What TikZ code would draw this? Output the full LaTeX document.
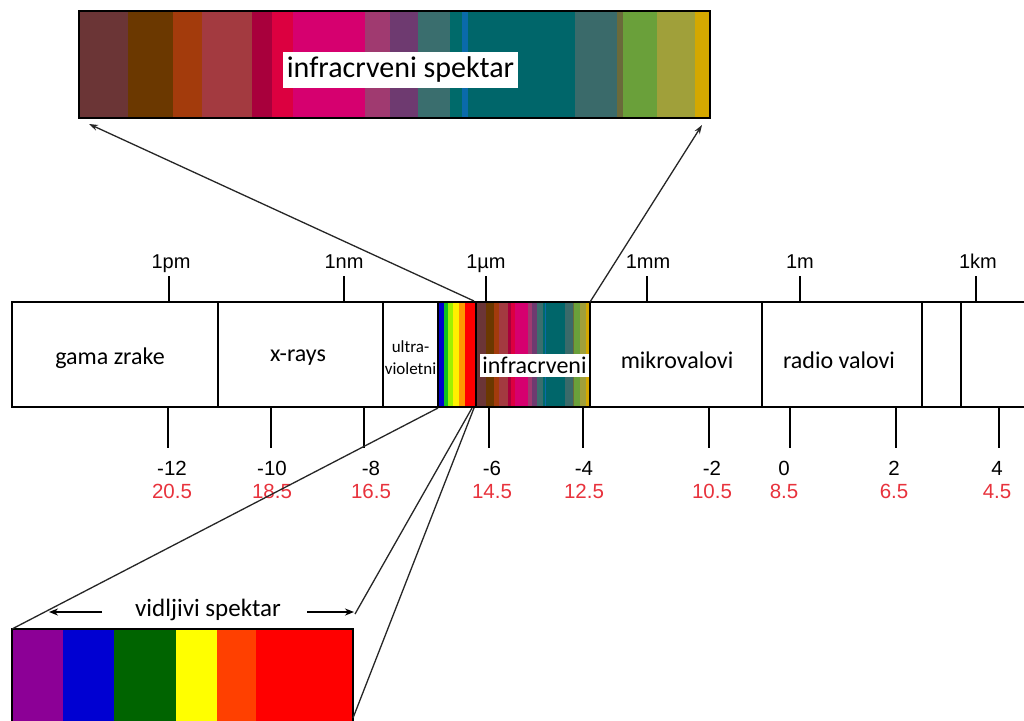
\documentclass[tikz,border=0pt]{standalone}
\usepackage{fontspec}
\setmainfont{Carlito}
\newfontfamily\arialf{Liberation Sans}
\usetikzlibrary{arrows.meta}
\definecolor{tickred}{HTML}{E8323C}
\definecolor{ira}{HTML}{6B3536}
\definecolor{irb}{HTML}{6B3800}
\definecolor{irc}{HTML}{A33B0C}
\definecolor{ird}{HTML}{A33A40}
\definecolor{ire}{HTML}{A8003C}
\definecolor{irf}{HTML}{DC0040}
\definecolor{irg}{HTML}{D6006F}
\definecolor{irh}{HTML}{A03A70}
\definecolor{iri}{HTML}{6E3A70}
\definecolor{irj}{HTML}{3A6E6E}
\definecolor{irk}{HTML}{006A6A}
\definecolor{irl}{HTML}{0A6AAA}
\definecolor{irm}{HTML}{00666A}
\definecolor{irn}{HTML}{3A6A6A}
\definecolor{iro}{HTML}{6A6A3A}
\definecolor{irp}{HTML}{6AA03A}
\definecolor{irq}{HTML}{A0A03A}
\definecolor{irr}{HTML}{D4A800}
\definecolor{vviolet}{HTML}{8C0096}
\definecolor{vblue}{HTML}{0000D2}
\definecolor{vgreen}{HTML}{006400}
\definecolor{vyellow}{HTML}{FFFF00}
\definecolor{vorange}{HTML}{FF4000}
\definecolor{vred}{HTML}{FF0000}
\definecolor{sblue}{HTML}{0000CC}
\definecolor{sgreen}{HTML}{10C020}
\definecolor{slgreen}{HTML}{A0F000}
\definecolor{syellow}{HTML}{FFF000}
\definecolor{sorange}{HTML}{FF9900}
\begin{document}
\begin{tikzpicture}[x=1pt,y=-1pt,
  boxline/.style={line width=1.8pt,black},
  tickline/.style={line width=2pt,black},
  conn/.style={line width=1.3pt,black!85},
  connarrow/.style={conn,-{Stealth[length=9pt,width=6pt]}},
  sparrow/.style={line width=1.6pt,-{Stealth[length=9pt,width=7pt]}},
  boxlabel/.style={font=\fontsize{24}{26}\selectfont,inner sep=0pt},
  toplabel/.style={font=\arialf\fontsize{20}{22}\selectfont,inner sep=0pt,anchor=base},
  numlabel/.style={font=\arialf\fontsize{20.5}{22}\selectfont,inner sep=0pt,anchor=base},
  redlabel/.style={numlabel,text=tickred}]
\useasboundingbox (0,0) rectangle (1024,720);
\fill[white] (0,0) rectangle (1024,720);

% ---------- top infrared spectrum ----------
\foreach \a/\b/\c in {79/128/ira,128/173/irb,173/202/irc,202/252/ird,252/272/ire,272/293/irf,293/365/irg,365/390/irh,390/418/iri,418/450/irj,450/462/irk,462/468/irl,468/575/irm,575/617/irn,617/623/iro,623/657/irp,657/695/irq,695/710/irr}
  \fill[\c] (\a,11) rectangle (\b,118);
\draw[line width=2.4pt] (79,11) rectangle (710,118);
\node[font=\fontsize{30}{32}\selectfont,fill=white,inner sep=0pt,minimum width=235pt,minimum height=36pt] (irtitle) at (400.5,70) {infracrveni spektar};

% ---------- main bar ----------
% infrared part
\foreach \a/\b/\c in {79/128/ira,128/173/irb,173/202/irc,202/252/ird,252/272/ire,272/293/irf,293/365/irg,365/390/irh,390/418/iri,418/450/irj,450/462/irk,462/468/irl,468/575/irm,575/617/irn,617/623/iro,623/657/irp,657/695/irq,695/710/irr}
  \fill[\c] ({477+(\a-79)/631*112},302) rectangle ({477+(\b-79)/631*112},407);
% visible part
\foreach \a/\b/\c in {438/444/sblue,444/448/sgreen,448/453/slgreen,453/459/syellow,459/465/sorange,465/476/vred}
  \fill[\c] (\a,302) rectangle (\b,407);
\draw[boxline] (1024,302) -- (12,302) -- (12,407) -- (1024,407);
\foreach \x in {218,383,438,476,590,762,922,961}
  \draw[boxline] (\x,302) -- (\x,407);

\node[boxlabel] (gama) at (110,358) {gama zrake};
\node[boxlabel] (xray) at (298,358) {x-rays};
\node[font=\fontsize{17}{22}\selectfont,inner sep=0pt,align=center] (uv) at (410.5,358) {ultra-\\violetni};
\node[boxlabel,fill=white,minimum width=109pt,minimum height=23pt] (ir) at (534.5,365.5) {infracrveni};
\node[boxlabel] (mikro) at (677,360) {mikrovalovi};
\node[boxlabel] (radio) at (839,360) {radio valovi};

% top ticks
\foreach \x/\lx/\t in {169/171/1pm,344/344/1nm,486/486/1µm,647/648/1mm,800/800/1m,976/978/1km}{
  \draw[tickline] (\x,276) -- (\x,302);
  \node[toplabel] at (\lx,268) {\t};
}
% bottom ticks
\foreach \x/\lx/\t/\r in {168/172/-12/20.5,271/272/-10/18.5,364/371/-8/16.5,489/492/-6/14.5,583/584/-4/12.5,709/712/-2/10.5,790/784/0/8.5,896/894/2/6.5,999/997/4/4.5}{
  \draw[tickline] (\x,407) -- (\x,448);
  \node[numlabel] at (\lx,475) {\t};
  \node[redlabel] at (\lx,498) {\r};
}

% ---------- visible spectrum ----------
\foreach \a/\b/\c in {12/63/vviolet,63/114/vblue,114/176/vgreen,176/217/vyellow,217/256/vorange,256/353/vred}
  \fill[\c] (\a,629) rectangle (\b,721);
\draw[line width=2pt] (12,721) -- (12,629) -- (353,629) -- (353,721);
\node[font=\fontsize{25}{27}\selectfont,inner sep=0pt] (vis) at (208,610) {vidljivi spektar};
\coordinate (vaL1) at (102,612);
\coordinate (vaL2) at (49,612);
\coordinate (vaR1) at (307,612);
\coordinate (vaR2) at (354,612);
\draw[sparrow] (vaL1) -- (vaL2);
\draw[sparrow] (vaR1) -- (vaR2);

% ---------- connectors ----------
\coordinate (irTL) at (474,301);
\coordinate (irTR) at (590,302);
\coordinate (topBL) at (89,124);
\coordinate (topBR) at (702,125);
\coordinate (visBL) at (438,408);
\coordinate (visR1) at (472,408);
\coordinate (visR2) at (474,408);
\coordinate (vbTL) at (12,629);
\coordinate (vbTR) at (355,614);
\coordinate (vbBR) at (353,718);
\draw[connarrow] (irTL) -- (topBL);
\draw[connarrow] (irTR) -- (topBR);
\draw[conn] (visBL) -- (vbTL);
\draw[conn] (visR1) -- (vbTR);
\draw[conn] (visR2) -- (vbBR);
\end{tikzpicture}
\end{document}
